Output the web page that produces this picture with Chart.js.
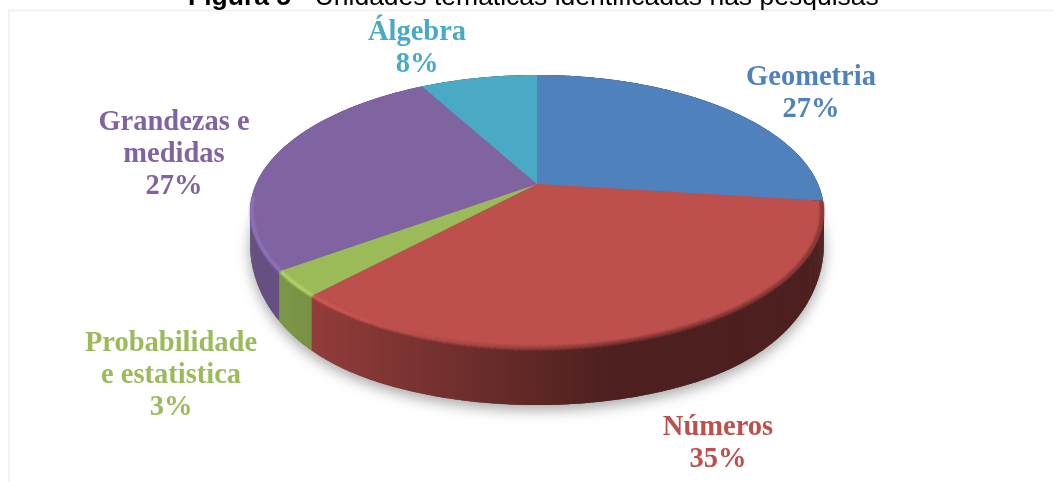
<!DOCTYPE html>
<html>
<head>
<meta charset="utf-8">
<title>Unidades temáticas</title>
<script src="https://cdn.jsdelivr.net/npm/chart.js@4"></script>
<style>
  html, body { margin: 0; background: #fff; }
  canvas { display: block; }
</style>
</head>
<body>
<canvas id="pie" width="1054" height="482"></canvas>
<script>
const categories = ['Geometria', 'Números', 'Probabilidade e estatistica', 'Grandezas e medidas', 'Álgebra'];
const values = [27, 35, 3, 27, 8];
const colors = ['#4f81bd', '#bd4f4c', '#9bbb59', '#8064a2', '#4aa9c4'];
const labelLines = [['Geometria'], ['Números'], ['Probabilidade', 'e estatistica'], ['Grandezas e', 'medidas'], ['Álgebra']];

// centre x and first baseline of each label
const labelPos = [[811, 85], [718, 435], [171, 351], [174, 130], [417, 40]];

// perspective of the tilted disc: unit circle -> screen
const WIDE = 281, TALL = 131, TILT = -0.2015;

function project(arc, a) {
  const u = Math.cos(a), v = Math.sin(a), d = 1 + TILT * v;
  return { x: arc.x + WIDE * u / d, y: arc.y + TALL * v / d, v };
}

function depth(v) {
  const t = Math.min(Math.max(v, 0) / 0.9, 1);
  return 30 + 27 * t * t * (3 - 2 * t);
}

function rgb(hex) {
  return [1, 3, 5].map(i => parseInt(hex.substr(i, 2), 16));
}

function sideShade(x) {
  const t = Math.min(Math.max((x - 290) / 320, 0), 1);
  return 0.8 - 0.39 * t;
}

const pie3d = {
  id: 'pie3d',
  beforeDatasetsDraw(chart) {
    const ctx = chart.ctx;
    const arcs = chart.getDatasetMeta(0).data;
    const step = Math.PI / 360;

    // frame
    ctx.save();
    ctx.strokeStyle = '#f0f0e8';
    ctx.lineWidth = 1.5;
    ctx.beginPath();
    ctx.moveTo(9, 482);
    ctx.lineTo(9, 10.5);
    ctx.lineTo(1054, 10.5);
    ctx.stroke();

    // soft shadow under the disc
    ctx.save();
    ctx.shadowColor = 'rgba(0,0,0,0.35)';
    ctx.shadowBlur = 14;
    ctx.shadowOffsetY = 5;
    ctx.fillStyle = '#777';
    ctx.beginPath();
    for (let a = 0; a < Math.PI * 2; a += step) {
      const p = project(arcs[0], a);
      ctx.lineTo(p.x, p.y + depth(p.v));
    }
    ctx.closePath();
    ctx.fill();
    ctx.restore();

    // side wall
    arcs.forEach((arc, i) => {
      const base = rgb(colors[i]);
      for (let a = arc.startAngle; a < arc.endAngle; a += step) {
        const p = project(arc, a);
        const q = project(arc, Math.min(a + step * 1.6, arc.endAngle));
        const f = sideShade(p.x);
        ctx.fillStyle = 'rgb(' + base.map(c => Math.round(c * f)).join(',') + ')';
        ctx.beginPath();
        ctx.moveTo(p.x, p.y);
        ctx.lineTo(q.x, q.y);
        ctx.lineTo(q.x, q.y + depth(q.v));
        ctx.lineTo(p.x, p.y + depth(p.v));
        ctx.closePath();
        ctx.fill();
      }
    });

    // top face
    arcs.forEach((arc, i) => {
      ctx.fillStyle = colors[i];
      ctx.beginPath();
      ctx.moveTo(arc.x, arc.y);
      for (let a = arc.startAngle; a < arc.endAngle; a += step) {
        const p = project(arc, a);
        ctx.lineTo(p.x, p.y);
      }
      const e = project(arc, arc.endAngle);
      ctx.lineTo(e.x, e.y);
      ctx.closePath();
      ctx.fill();
    });

    // bevel along the front rim, light on the left and dark on the right
    ctx.filter = 'blur(1px)';
    ctx.lineWidth = 3;
    arcs.forEach((arc, i) => {
      const base = rgb(colors[i]);
      for (let a = arc.startAngle; a < arc.endAngle; a += step * 2) {
        const p = project(arc, a);
        const q = project(arc, Math.min(a + step * 3, arc.endAngle));
        if (p.v < 0.12) continue;
        const t = Math.min(Math.max((p.x - 300) / 330, 0), 1);
        const glow = 1.14 - 0.46 * t;
        ctx.strokeStyle = 'rgb(' + base.map(c => Math.min(255, Math.round(c * glow))).join(',') + ')';
        ctx.beginPath();
        ctx.moveTo(p.x + (arc.x - p.x) * 0.006, p.y);
        ctx.lineTo(q.x + (arc.x - q.x) * 0.006, q.y);
        ctx.stroke();
      }
    });
    ctx.filter = 'none';

    // heading, cut by the top of the picture
    ctx.textBaseline = 'alphabetic';
    ctx.textAlign = 'left';
    ctx.fillStyle = '#000';
    ctx.font = 'bold 26.5px "Liberation Sans"';
    ctx.fillText('Figura 5', 188, 5);
    const w = ctx.measureText('Figura 5').width;
    ctx.font = '26.5px "Liberation Sans"';
    ctx.fillText(' - Unidades temáticas identificadas nas pesquisas', 188 + w, 5);

    // slice labels
    ctx.font = 'bold 28.5px "Liberation Serif"';
    ctx.textAlign = 'center';
    labelLines.forEach((lines, i) => {
      ctx.fillStyle = colors[i];
      const all = lines.concat(values[i] + '%');
      all.forEach((t, n) => ctx.fillText(t, labelPos[i][0], labelPos[i][1] + n * 32));
    });
    ctx.restore();
    return false;
  }
};

new Chart(document.getElementById('pie'), {
  type: 'pie',
  data: {
    labels: categories,
    datasets: [{ data: values, backgroundColor: colors, borderWidth: 0 }]
  },
  options: {
    responsive: false,
    animation: false,
    layout: { padding: { left: 20, right: 0, top: 0, bottom: 114 } },
    plugins: { legend: { display: false }, tooltip: { enabled: false } }
  },
  plugins: [pie3d]
});
</script>
</body>
</html>
